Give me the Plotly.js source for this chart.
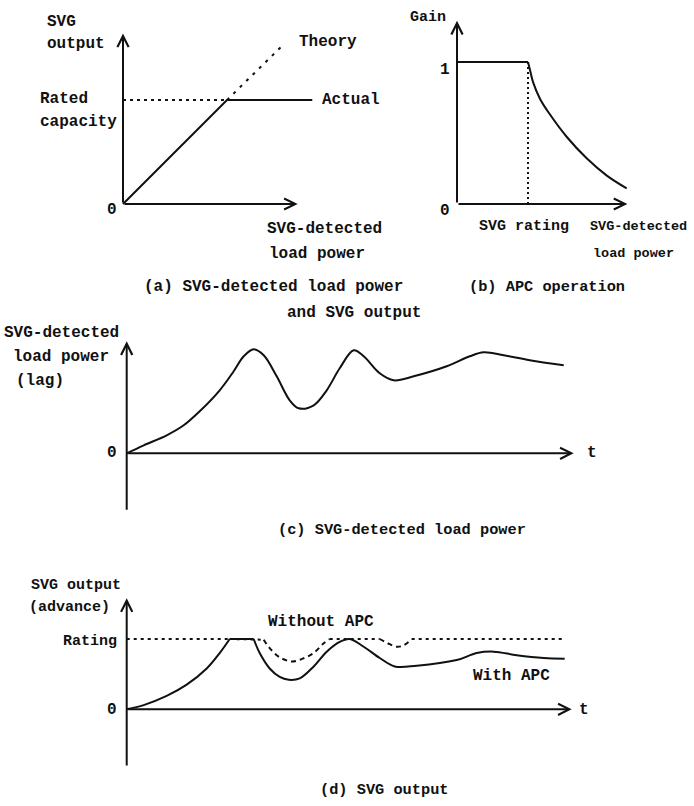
<!DOCTYPE html>
<html><head><meta charset="utf-8">
<script src="https://cdn.plot.ly/plotly-3.0.1.min.js"></script>
<style>html,body{margin:0;padding:0;background:#fff}#chart{width:694px;height:806px}</style>
</head><body><div id="chart"></div>
<script>
// ---------- DATA ----------
// (a) SVG-detected load power vs SVG output (rated capacity = 1)
const aActualX = [0, 1, 1.82];
const aActualY = [0, 1, 1];
const aTheoryX = [1, 1.55];
const aTheoryY = [1, 1.54];
const aRatedX = [0, 1];
const aRatedY = [1, 1];
// (b) APC gain vs SVG-detected load power (SVG rating = 1)
const bGainX = [0, 1.00, 1.03, 1.07, 1.17, 1.31, 1.55, 1.83, 2.11, 2.39];
const bGainY = [1, 1.00, 0.94, 0.86, 0.74, 0.63, 0.47, 0.32, 0.20, 0.11];
const bRatingX = [1, 1];
const bRatingY = [0, 1];
// (c) SVG-detected load power over time
const cT = [0, 0.17, 0.40, 0.57, 0.73, 0.93, 1.07, 1.17, 1.27, 1.37, 1.50, 1.63, 1.72, 1.87, 2.00, 2.13, 2.27, 2.37, 2.53, 2.67, 2.87, 3.20, 3.43, 3.57, 3.77, 4.03, 4.37];
const cP = [0, 0.08, 0.18, 0.28, 0.42, 0.63, 0.82, 0.97, 1.04, 0.98, 0.77, 0.53, 0.45, 0.48, 0.63, 0.85, 1.03, 0.97, 0.80, 0.73, 0.77, 0.87, 0.97, 1.01, 0.98, 0.93, 0.88];
// (d) SVG output over time (rating = 1)
const dWithT = [0, 0.17, 0.40, 0.60, 0.80, 0.93, 1.03, 1.27, 1.33, 1.43, 1.53, 1.62, 1.73, 1.87, 2.00, 2.13, 2.23, 2.37, 2.53, 2.68, 2.90, 3.30, 3.50, 3.67, 3.90, 4.17, 4.38];
const dWithY = [0, 0.06, 0.19, 0.35, 0.58, 0.80, 1.00, 1.00, 0.80, 0.58, 0.46, 0.42, 0.44, 0.61, 0.82, 0.96, 1.00, 0.89, 0.73, 0.61, 0.62, 0.70, 0.80, 0.82, 0.77, 0.73, 0.72];
const dWithoutT = [1.03, 1.37, 1.43, 1.53, 1.65, 1.76, 1.87, 1.97, 2.03, 2.53, 2.61, 2.70, 2.77, 2.85, 4.38];
const dWithoutY = [1.00, 0.99, 0.87, 0.74, 0.68, 0.72, 0.80, 0.94, 1.00, 1.00, 0.94, 0.89, 0.91, 1.00, 1.00];
const dRatingT = [0, 1.03];
const dRatingY = [1, 1];

// ---------- LAYOUT HELPERS ----------
const W = 694, H = 806;
const INK = '#111';
const FONT = 'Liberation Mono, DejaVu Sans Mono, monospace';
function axisPair(ox, oy, ux, uy, x0, x1, y0, y1) {
  const common = {visible: false, showgrid: false, zeroline: false, fixedrange: true};
  return [
    Object.assign({domain: [x0 / W, x1 / W], range: [(x0 - ox) / ux, (x1 - ox) / ux]}, common),
    Object.assign({domain: [1 - y1 / H, 1 - y0 / H], range: [(oy - y1) / uy, (oy - y0) / uy]}, common)
  ];
}
const [xa1, ya1] = axisPair(123, 204, 104, 104, 100, 400, 15, 220);
const [xa2, ya2] = axisPair(457, 204, 71, 142, 430, 690, 10, 220);
const [xa3, ya3] = axisPair(126.7, 453.3, 100, 100, 100, 600, 330, 520);
const [xa4, ya4] = axisPair(126.7, 709.3, 100, 70.3, 100, 600, 585, 775);
Object.assign(ya1, {anchor: 'x'}); Object.assign(xa1, {anchor: 'y'});
Object.assign(ya2, {anchor: 'x2'}); Object.assign(xa2, {anchor: 'y2'});
Object.assign(ya3, {anchor: 'x3'}); Object.assign(xa3, {anchor: 'y3'});
Object.assign(ya4, {anchor: 'x4'}); Object.assign(xa4, {anchor: 'y4'});

function line(x, y, xa, ya, dash, shape, sm) {
  return {x: x, y: y, xaxis: xa, yaxis: ya, type: 'scatter', mode: 'lines', hoverinfo: 'skip',
    line: {color: INK, width: 2, dash: dash || 'solid', shape: shape || 'linear', smoothing: sm || 1}};
}
function seg(arr, a, b) { return arr.slice(a, b + 1); }

const traces = [
  line(aActualX, aActualY, 'x', 'y'),
  line(aTheoryX, aTheoryY, 'x', 'y', '3px,6px'),
  line(aRatedX, aRatedY, 'x', 'y', '3px,4px'),
  line(seg(bGainX, 0, 1), seg(bGainY, 0, 1), 'x2', 'y2'),
  line(seg(bGainX, 1, 9), seg(bGainY, 1, 9), 'x2', 'y2', 'solid', 'spline', 1),
  line(bRatingX, bRatingY, 'x2', 'y2', '2px,3px'),
  line(cT, cP, 'x3', 'y3', 'solid', 'spline', 1),
  // (d) rating reference and Without APC (dotted where at rating, dashed in the dips)
  line(dRatingT, dRatingY, 'x4', 'y4', '3px,4px'),
  line(seg(dWithoutT, 0, 1), seg(dWithoutY, 0, 1), 'x4', 'y4', '3px,4px'),
  line(seg(dWithoutT, 1, 8), seg(dWithoutY, 1, 8), 'x4', 'y4', '5px,4px', 'spline', 1),
  line(seg(dWithoutT, 8, 9), seg(dWithoutY, 8, 9), 'x4', 'y4', '3px,4px'),
  line(seg(dWithoutT, 9, 13), seg(dWithoutY, 9, 13), 'x4', 'y4', '5px,4px', 'spline', 1),
  line(seg(dWithoutT, 13, 14), seg(dWithoutY, 13, 14), 'x4', 'y4', '3px,4px'),
  // With APC: rise, flat at rating, then the rest
  line(seg(dWithT, 0, 6), seg(dWithY, 0, 6), 'x4', 'y4', 'solid', 'spline', 1),
  line(seg(dWithT, 6, 7), seg(dWithY, 6, 7), 'x4', 'y4'),
  line(seg(dWithT, 7, 26), seg(dWithY, 7, 26), 'x4', 'y4', 'solid', 'spline', 1)
];

function arrow(xr, yr, x, y, ax, ay) {
  return {xref: xr, yref: yr, axref: xr, ayref: yr, x: x, y: y, ax: ax, ay: ay, text: '',
    showarrow: true, arrowhead: 5, arrowsize: 1.1, arrowwidth: 2, arrowcolor: INK, standoff: 0, startstandoff: 0};
}
function txt(t, px, py, anchor, size) {
  return {xref: 'paper', yref: 'paper', x: px / W, y: 1 - py / H, text: t, showarrow: false,
    xanchor: anchor || 'left', yanchor: 'middle',
    font: {family: FONT, size: size || 16, color: INK, weight: 'bold'}};
}

const annotations = [
  // axes
  arrow('x', 'y', 1.68, 0, 0, 0), arrow('x', 'y', 0, 1.64, 0, 0),
  arrow('x2', 'y2', 2.40, 0, 0, 0), arrow('x2', 'y2', 0, 1.29, 0, 0),
  arrow('x3', 'y3', 4.47, 0, 0, 0), arrow('x3', 'y3', 0, 1.12, 0, -0.58),
  arrow('x4', 'y4', 4.45, 0, 0, 0), arrow('x4', 'y4', 0, 1.58, 0, -0.82),
  // (a)
  txt('SVG', 45, 22), txt('output', 45, 44),
  txt('Rated', 38, 99), txt('capacity', 38, 122),
  txt('0', 112, 210, 'center'),
  txt('Theory', 297, 42), txt('Actual', 320, 100),
  txt('SVG-detected', 265, 229), txt('load power', 267, 254),
  txt('(a) SVG-detected load power', 142, 287), txt('and SVG output', 285, 313),
  // (b)
  txt('Gain', 408, 18, 'left', 15),
  txt('1', 445, 70, 'center'), txt('0', 445, 211, 'center'),
  txt('SVG rating', 477, 227, 'left', 15),
  txt('SVG-detected', 588, 227, 'left', 13.5), txt('load power', 591, 253, 'left', 13.5),
  txt('(b) APC operation', 467, 287, 'left', 15.3),
  // (c)
  txt('SVG-detected', 2, 333), txt('load power', 11, 357), txt('(lag)', 14, 381),
  txt('0', 112, 453, 'center'), txt('t', 592, 453, 'center'),
  txt('(c) SVG-detected load power', 276, 530, 'left', 15.3),
  // (d)
  txt('SVG output', 29, 585, 'left', 15), txt('(advance)', 27, 607, 'left', 15),
  txt('Rating', 61, 641, 'left', 15),
  txt('0', 112, 710, 'center'), txt('t', 584, 710, 'center'),
  txt('Without APC', 266, 622), txt('With APC', 471, 676),
  txt('(d) SVG output', 318, 790, 'left', 15.3)
];

const layout = {
  width: W, height: H, margin: {l: 0, r: 0, t: 0, b: 0},
  paper_bgcolor: '#fff', plot_bgcolor: 'rgba(0,0,0,0)', showlegend: false,
  xaxis: xa1, yaxis: ya1, xaxis2: xa2, yaxis2: ya2,
  xaxis3: xa3, yaxis3: ya3, xaxis4: xa4, yaxis4: ya4,
  annotations: annotations
};
Plotly.newPlot('chart', traces, layout, {staticPlot: true, displayModeBar: false});
</script></body></html>
